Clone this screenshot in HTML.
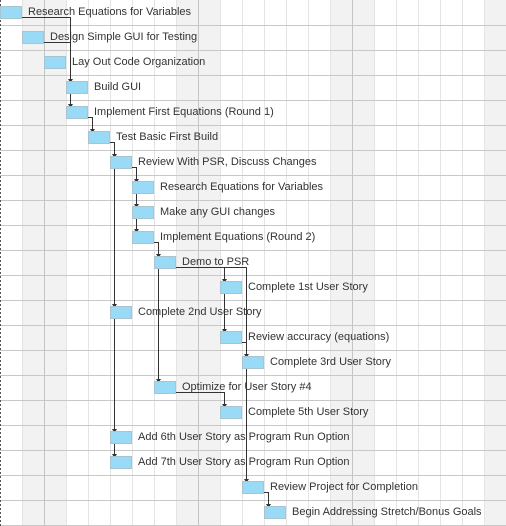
<!DOCTYPE html>
<html><head><meta charset="utf-8"><style>
html,body{margin:0;padding:0;background:#fff;}
svg{display:block;}
text{font-family:"Liberation Sans",Arial,sans-serif;font-size:11px;fill:#333;}
</style></head><body>
<svg width="506" height="526" xmlns="http://www.w3.org/2000/svg">
<rect width="506" height="526" fill="#fff"/>
<g fill="#f2f2f2">
<rect x="22" y="0" width="44" height="526"/>
<rect x="176" y="0" width="44" height="526"/>
<rect x="330" y="0" width="44" height="526"/>
<rect x="484" y="0" width="22" height="526"/>
</g>
<g stroke="#e4e4e4" stroke-width="1">
<line x1="22.5" y1="0" x2="22.5" y2="526"/>
<line x1="66.5" y1="0" x2="66.5" y2="526"/>
<line x1="88.5" y1="0" x2="88.5" y2="526"/>
<line x1="110.5" y1="0" x2="110.5" y2="526"/>
<line x1="132.5" y1="0" x2="132.5" y2="526"/>
<line x1="154.5" y1="0" x2="154.5" y2="526"/>
<line x1="176.5" y1="0" x2="176.5" y2="526"/>
<line x1="220.5" y1="0" x2="220.5" y2="526"/>
<line x1="242.5" y1="0" x2="242.5" y2="526"/>
<line x1="264.5" y1="0" x2="264.5" y2="526"/>
<line x1="286.5" y1="0" x2="286.5" y2="526"/>
<line x1="308.5" y1="0" x2="308.5" y2="526"/>
<line x1="330.5" y1="0" x2="330.5" y2="526"/>
<line x1="374.5" y1="0" x2="374.5" y2="526"/>
<line x1="396.5" y1="0" x2="396.5" y2="526"/>
<line x1="418.5" y1="0" x2="418.5" y2="526"/>
<line x1="440.5" y1="0" x2="440.5" y2="526"/>
<line x1="462.5" y1="0" x2="462.5" y2="526"/>
<line x1="484.5" y1="0" x2="484.5" y2="526"/>
</g>
<g stroke="#c4c4c4" stroke-width="1">
<line x1="44.5" y1="0" x2="44.5" y2="526"/>
<line x1="198.5" y1="0" x2="198.5" y2="526"/>
<line x1="352.5" y1="0" x2="352.5" y2="526"/>
</g>
<g stroke="#c8c8c8" stroke-width="1">
<line x1="0" y1="25.5" x2="506" y2="25.5"/><line x1="0" y1="50.5" x2="506" y2="50.5"/>
<line x1="0" y1="75.5" x2="506" y2="75.5"/><line x1="0" y1="100.5" x2="506" y2="100.5"/>
<line x1="0" y1="125.5" x2="506" y2="125.5"/><line x1="0" y1="150.5" x2="506" y2="150.5"/>
<line x1="0" y1="175.5" x2="506" y2="175.5"/><line x1="0" y1="200.5" x2="506" y2="200.5"/>
<line x1="0" y1="225.5" x2="506" y2="225.5"/><line x1="0" y1="250.5" x2="506" y2="250.5"/>
<line x1="0" y1="275.5" x2="506" y2="275.5"/><line x1="0" y1="300.5" x2="506" y2="300.5"/>
<line x1="0" y1="325.5" x2="506" y2="325.5"/><line x1="0" y1="350.5" x2="506" y2="350.5"/>
<line x1="0" y1="375.5" x2="506" y2="375.5"/><line x1="0" y1="400.5" x2="506" y2="400.5"/>
<line x1="0" y1="425.5" x2="506" y2="425.5"/><line x1="0" y1="450.5" x2="506" y2="450.5"/>
<line x1="0" y1="475.5" x2="506" y2="475.5"/><line x1="0" y1="500.5" x2="506" y2="500.5"/>
<line x1="0" y1="525.5" x2="506" y2="525.5"/>
</g>
<line x1="0.5" y1="0" x2="0.5" y2="526" stroke="#555" stroke-dasharray="2,2"/>

<!-- connectors -->
<g stroke="#333" stroke-width="1" fill="none">
<polyline points="22,17.5 70.5,17.5 70.5,104"/>
<polyline points="44,42.5 70.5,42.5"/>
<polyline points="88,117.5 92.5,117.5 92.5,129"/>
<polyline points="110,142.5 114.5,142.5 114.5,454"/>
<polyline points="132,167.5 136.5,167.5 136.5,229"/>
<polyline points="154,242.5 158.5,242.5 158.5,379"/>
<polyline points="176,267.5 246.5,267.5 246.5,479"/>
<polyline points="224.5,267.5 224.5,329"/>
<polyline points="242,342.5 246.5,342.5"/>
<polyline points="176,392.5 224.5,392.5 224.5,404"/>
<polyline points="264,492.5 268.5,492.5 268.5,504"/>
</g>
<g fill="#333">
<path d="M68,79h5l-2.5,4z"/><path d="M68,104h5l-2.5,4z"/>
<path d="M90,129h5l-2.5,4z"/>
<path d="M112,154h5l-2.5,4z"/><path d="M112,304h5l-2.5,4z"/><path d="M112,429h5l-2.5,4z"/><path d="M112,454h5l-2.5,4z"/>
<path d="M134,179h5l-2.5,4z"/><path d="M134,204h5l-2.5,4z"/><path d="M134,229h5l-2.5,4z"/>
<path d="M156,254h5l-2.5,4z"/><path d="M156,379h5l-2.5,4z"/>
<path d="M222,279h5l-2.5,4z"/><path d="M222,329h5l-2.5,4z"/><path d="M222,404h5l-2.5,4z"/>
<path d="M244,354h5l-2.5,4z"/><path d="M244,479h5l-2.5,4z"/>
<path d="M266,504h5l-2.5,4z"/>
</g>

<!-- bars -->
<g fill="#99daf6" stroke="#a9c3cf" stroke-width="1">
<rect x="0.5" y="6.5" width="21" height="12"/>
<rect x="22.5" y="31.5" width="21" height="12"/>
<rect x="44.5" y="56.5" width="21" height="12"/>
<rect x="66.5" y="81.5" width="21" height="12"/>
<rect x="66.5" y="106.5" width="21" height="12"/>
<rect x="88.5" y="131.5" width="21" height="12"/>
<rect x="110.5" y="156.5" width="21" height="12"/>
<rect x="132.5" y="181.5" width="21" height="12"/>
<rect x="132.5" y="206.5" width="21" height="12"/>
<rect x="132.5" y="231.5" width="21" height="12"/>
<rect x="154.5" y="256.5" width="21" height="12"/>
<rect x="220.5" y="281.5" width="21" height="12"/>
<rect x="110.5" y="306.5" width="21" height="12"/>
<rect x="220.5" y="331.5" width="21" height="12"/>
<rect x="242.5" y="356.5" width="21" height="12"/>
<rect x="154.5" y="381.5" width="21" height="12"/>
<rect x="220.5" y="406.5" width="21" height="12"/>
<rect x="110.5" y="431.5" width="21" height="12"/>
<rect x="110.5" y="456.5" width="21" height="12"/>
<rect x="242.5" y="481.5" width="21" height="12"/>
<rect x="264.5" y="506.5" width="21" height="12"/>
</g>
<g>
<text x="28" y="15">Research Equations for Variables</text>
<text x="50" y="40">Design Simple GUI for Testing</text>
<text x="72" y="65">Lay Out Code Organization</text>
<text x="94" y="90">Build GUI</text>
<text x="94" y="115">Implement First Equations (Round 1)</text>
<text x="116" y="140">Test Basic First Build</text>
<text x="138" y="165">Review With PSR, Discuss Changes</text>
<text x="160" y="190">Research Equations for Variables</text>
<text x="160" y="215">Make any GUI changes</text>
<text x="160" y="240">Implement Equations (Round 2)</text>
<text x="182" y="265">Demo to PSR</text>
<text x="248" y="290">Complete 1st User Story</text>
<text x="138" y="315">Complete 2nd User Story</text>
<text x="248" y="340">Review accuracy (equations)</text>
<text x="270" y="365">Complete 3rd User Story</text>
<text x="182" y="390">Optimize for User Story #4</text>
<text x="248" y="415">Complete 5th User Story</text>
<text x="138" y="440">Add 6th User Story as Program Run Option</text>
<text x="138" y="465">Add 7th User Story as Program Run Option</text>
<text x="270" y="490">Review Project for Completion</text>
<text x="292" y="515">Begin Addressing Stretch/Bonus Goals</text>
</g>
</svg>
</body></html>
